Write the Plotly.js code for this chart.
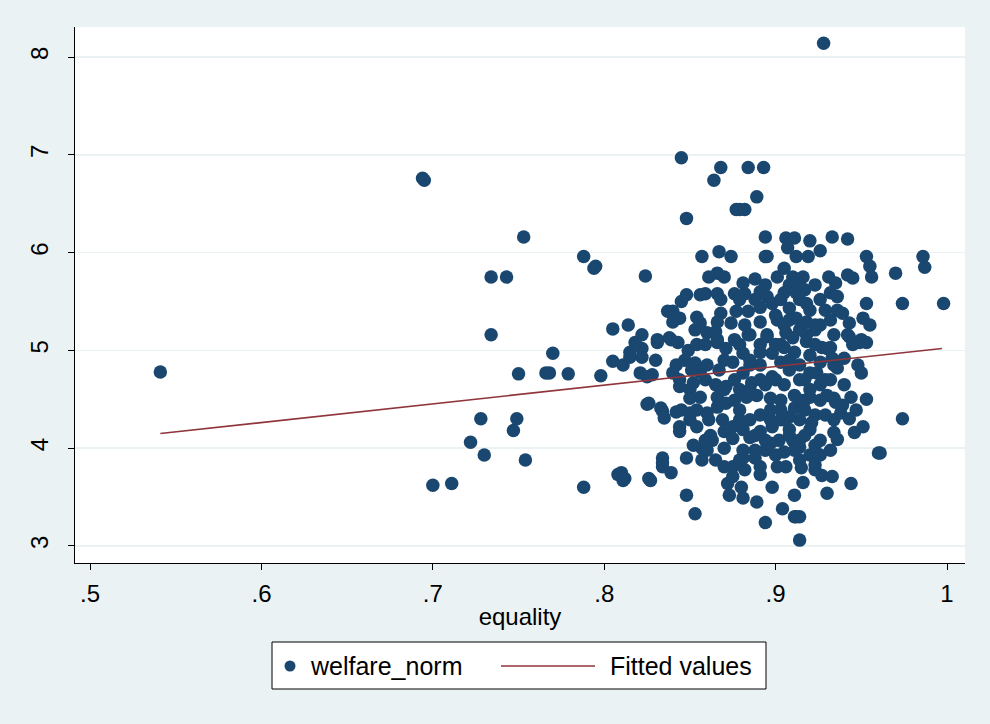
<!DOCTYPE html>
<html>
<head>
<meta charset="utf-8">
<script src="https://cdn.plot.ly/plotly-3.0.1.min.js"></script>
<style>html,body{margin:0;padding:0;background:#EAF2F3;}#chart{width:990px;height:724px;}</style>
</head>
<body>
<div id="chart"></div>
<script>
// equality (x) and welfare_norm (y)
const equality = [
0.541,0.694,0.695,0.700,0.711,0.722,0.728,0.730,0.734,0.743,0.734,0.747,0.749,0.750,0.753,0.754,0.770,0.766,0.768,0.779,
0.788,0.788,0.795,0.794,0.798,0.805,0.805,0.810,0.812,0.814,0.815,0.822,0.824,0.826,0.826,0.828,0.830,0.834,0.834,0.838,
0.840,0.844,0.845,0.845,0.848,0.848,0.853,0.864,0.868,0.877,0.879,0.882,0.884,0.889,0.893,0.894,0.894,0.894,0.904,0.911,
0.914,0.928,
0.906,0.911,0.907,0.857,0.867,0.874,0.895,0.912,0.861,0.866,0.870,0.881,0.888,0.901,0.905,0.910,0.848,0.856,0.859,0.866,
0.876,0.882,0.891,0.895,0.905,0.912,0.837,0.840,0.844,0.854,0.856,0.868,0.866,0.874,0.877,0.884,0.891,0.891,0.898,0.901,
0.908,0.912,0.822,0.831,0.839,0.860,0.866,0.884,0.895,0.906,
0.818,0.831,0.843,0.849,0.854,0.866,0.871,0.881,0.885,0.891,0.895,0.898,0.905,0.910,0.811,0.815,0.822,0.821,0.825,0.842,
0.840,0.844,0.851,0.853,0.856,0.860,0.852,0.856,0.866,0.871,0.867,0.875,0.881,0.886,0.889,0.897,0.898,0.883,0.879,0.871,
0.866,0.860,0.854,0.850,0.845,0.842,0.833,0.835,0.825,0.844,0.844,0.854,0.861,0.869,0.875,0.870,0.875,0.881,0.885,0.891,
0.898,0.903,0.908,0.910,0.902,0.897,0.852,0.857,0.863,0.860,0.870,0.881,0.881,0.834,0.834,0.839,0.848,0.857,0.870,0.875,
0.872,0.875,0.880,0.881,0.873,0.889,0.891,0.891,0.901,0.906,0.898,0.911,0.912,0.827,0.808,0.811,
0.920,0.919,0.926,0.933,0.942,0.953,0.955,0.956,0.970,0.986,0.987,0.998,0.974,0.953,0.931,0.935,0.942,0.945,0.932,0.936,
0.936,0.939,0.951,0.955,0.943,0.918,0.916,0.914,0.918,0.926,0.934,0.942,0.950,0.918,
0.953,0.949,0.943,0.932,0.927,0.918,0.945,0.930,0.934,0.933,0.936,0.932,0.920,0.924,0.950,0.920,0.934,0.930,0.935,0.944,
0.953,0.939,0.938,0.947,0.943,0.951,0.946,0.934,0.936,0.960,0.961,0.974,0.917,0.923,0.921,0.914,0.914,0.914,0.915,0.916,
0.927,0.933,0.930,0.944,0.914,
0.903,0.908,0.914,0.920,0.926,0.914,0.923,0.903,0.911,0.920,0.926,0.903,0.908,0.914,0.917,0.926,0.905,0.911,0.920,0.926,
0.911,0.903,0.929,0.920,0.926,0.908,0.905,0.920,0.926,0.891,0.894,0.885,0.879,0.891,0.885,0.894,0.888,0.900,0.876,0.865,
0.900,0.917,0.923,0.929,0.932,
0.882,0.905,0.923,0.859,0.879,0.900,0.923,0.847,0.870,0.885,0.908,0.859,0.891,0.900,0.914,0.929,0.850,0.870,0.885,0.876,
0.903,0.917,0.850,0.879,0.897,0.934,0.862,0.888,0.908,0.917,0.888,0.911,0.932,0.865,0.879,0.914,0.882,0.923,0.868,0.879,
0.888,0.894,0.908,
0.853,0.865,0.876,0.891,0.897,0.905,0.914,0.923,0.940,0.948,0.940,0.859,0.850,0.894,0.923
];
const welfareNorm = [
4.78,6.76,6.74,3.62,3.64,4.06,4.30,3.93,5.75,5.75,5.16,4.18,4.30,4.76,6.16,3.88,4.97,4.77,4.77,4.76,
3.60,5.96,5.86,5.84,4.74,5.22,4.89,3.75,3.69,5.26,4.98,5.02,5.76,4.46,3.69,4.75,4.90,3.85,4.38,5.13,
5.40,4.70,5.50,6.97,6.35,3.52,3.33,6.74,6.87,6.44,6.44,6.44,6.87,6.57,6.87,6.16,5.96,3.24,3.38,3.30,
3.06,8.14,
6.15,6.15,6.05,5.96,6.01,5.96,5.96,5.96,5.75,5.79,5.75,5.69,5.73,5.75,5.84,5.75,5.57,5.57,5.58,5.58,
5.58,5.58,5.60,5.55,5.59,5.59,5.40,5.29,5.33,5.34,5.28,5.38,5.29,5.28,5.40,5.40,5.44,5.29,5.48,5.31,
5.43,5.33,5.16,5.11,5.11,5.18,5.11,5.16,5.16,5.18,
5.08,5.08,5.08,5.00,5.06,5.08,5.02,4.97,5.16,4.98,5.14,4.97,5.03,5.13,4.85,4.93,4.93,4.77,4.73,4.85,
4.77,4.63,4.80,4.87,4.78,4.85,4.67,4.52,4.52,4.63,4.80,4.88,4.77,4.67,4.54,4.51,4.73,4.52,4.39,4.46,
4.42,4.36,4.39,4.36,4.39,4.37,4.41,4.31,4.45,4.22,4.17,4.22,4.29,4.29,4.22,4.17,4.10,4.19,4.11,4.17,
4.22,4.39,4.32,4.08,4.08,4.05,4.03,4.00,4.08,3.98,4.00,3.98,3.90,3.90,3.81,3.75,3.90,3.88,3.81,3.81,
3.64,3.71,3.60,3.49,3.52,3.45,3.81,3.73,3.81,3.81,3.60,3.52,3.30,3.67,3.73,3.67,
6.12,5.96,6.02,6.16,6.14,5.96,5.86,5.75,5.79,5.96,5.85,5.48,5.48,5.48,5.75,5.69,5.77,5.74,5.59,5.55,
5.41,5.38,5.33,5.26,5.28,5.48,5.75,5.65,5.29,5.26,5.16,5.16,5.11,5.16,
5.08,5.08,5.14,5.03,5.03,5.09,5.06,5.02,4.85,4.92,4.82,4.70,4.77,4.77,4.77,4.52,4.51,4.54,4.47,4.52,
4.50,4.44,4.36,4.39,4.30,4.22,4.16,4.16,4.09,3.95,3.95,4.30,4.39,4.34,4.26,4.29,4.08,4.01,3.80,3.65,
3.72,3.71,3.54,3.64,3.30,
5.52,5.31,5.52,5.41,5.52,5.21,5.21,5.06,4.98,4.95,4.88,4.88,4.80,4.85,4.70,4.65,4.65,4.54,4.60,4.49,
4.41,4.29,4.34,4.19,4.08,4.19,3.96,3.93,3.93,4.85,4.65,4.85,4.60,4.34,4.29,3.98,3.90,3.93,4.70,4.65,
5.36,5.62,5.67,5.41,5.31,
5.26,5.26,5.26,5.06,5.06,5.06,5.06,4.90,4.90,4.90,4.90,4.70,4.70,4.70,4.70,4.70,4.60,4.60,4.60,4.49,
4.49,4.49,4.29,4.29,4.29,4.29,4.13,4.13,4.13,4.13,3.98,3.98,3.98,3.88,3.88,3.88,3.78,3.78,5.52,5.52,
5.52,5.67,5.67,
5.21,5.19,5.11,5.06,4.39,4.29,4.49,4.03,4.92,4.85,4.65,4.08,4.51,4.08,3.83
];
// fitted values (linear fit) at the ends of the data range
const fitX = [0.541, 0.997];
const fitY = [4.15, 5.02];
const xTickVals = [0.5, 0.6, 0.7, 0.8, 0.9, 1];
const xTickText = ['.5', '.6', '.7', '.8', '.9', '1'];
const yTickVals = [3, 4, 5, 6, 7, 8];
const yTickText = ['3', '4', '5', '6', '7', '8'];
const legendLabels = ['welfare_norm', 'Fitted values'];

const FONT = 'Liberation Sans, Arial, sans-serif';
const NAVY = '#1a476f', MAROON = '#90353b';
const traces = [
  {type:'scatter', mode:'markers', name:legendLabels[0], x:equality, y:welfareNorm,
   marker:{color:NAVY, size:13.5, line:{width:0}}},
  {type:'scatter', mode:'lines', name:legendLabels[1], x:fitX, y:fitY,
   line:{color:MAROON, width:1.6}}
];
// manual legend in paper coordinates (plot area 75..965 x, 27..563 y)
const px = v => (v - 75) / 890;
const py = v => (563 - v) / 536;
const shapes = [
  {type:'rect', xref:'paper', yref:'paper', x0:px(272), x1:px(766), y0:py(689), y1:py(642),
   fillcolor:'#ffffff', line:{color:'#000', width:1}},
  {type:'circle', xref:'paper', yref:'paper', x0:px(284.5), x1:px(295.5), y0:py(671.5), y1:py(660.5),
   fillcolor:NAVY, line:{width:0}},
  {type:'line', xref:'paper', yref:'paper', x0:px(501), x1:px(595), y0:py(666), y1:py(666),
   line:{color:MAROON, width:1.6}}
];
const annotations = [
  {xref:'paper', yref:'paper', x:px(308), y:py(666), xanchor:'left', yanchor:'middle', showarrow:false,
   text:legendLabels[0], font:{family:FONT, size:25, color:'#000'}},
  {xref:'paper', yref:'paper', x:px(608), y:py(666), xanchor:'left', yanchor:'middle', showarrow:false,
   text:legendLabels[1], font:{family:FONT, size:25, color:'#000'}}
];
const layout = {
  width:990, height:724,
  paper_bgcolor:'#EAF2F3', plot_bgcolor:'#ffffff',
  margin:{l:75, r:25, t:27, b:161},
  font:{family:FONT, size:24, color:'#000'},
  showlegend:false,
  shapes:shapes, annotations:annotations,
  xaxis:{range:[0.4912, 1.0105], tickvals:xTickVals, ticktext:xTickText,
    showgrid:false, zeroline:false, showline:true, linecolor:'#000', linewidth:1,
    ticks:'outside', ticklen:6, tickcolor:'#000', ticklabelstandoff:3,
    tickfont:{family:FONT, size:24},
    title:{text:'equality', font:{family:FONT, size:24}, standoff:2}},
  yaxis:{range:[2.826, 8.307], tickvals:yTickVals, ticktext:yTickText, tickangle:-90,
    showgrid:true, gridcolor:'#EAF2F3', gridwidth:1.5, zeroline:false,
    showline:true, linecolor:'#000', linewidth:1,
    ticks:'outside', ticklen:6, tickcolor:'#000', ticklabelstandoff:10,
    tickfont:{family:FONT, size:24}}
};
Plotly.newPlot('chart', traces, layout, {displayModeBar:false, staticPlot:true});
</script>
</body>
</html>
